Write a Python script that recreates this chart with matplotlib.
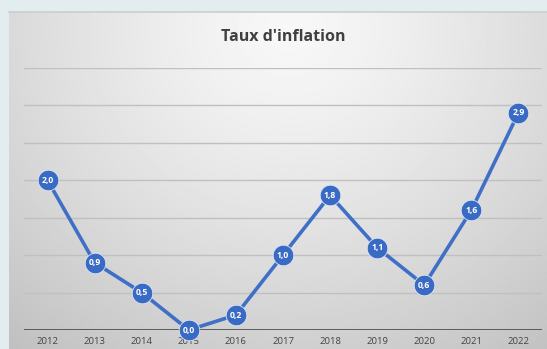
import numpy as np
import matplotlib
matplotlib.use("Agg")
import matplotlib.pyplot as plt

years = ["2012", "2013", "2014", "2015", "2016", "2017", "2018", "2019", "2020", "2021", "2022"]
inflation = [2.0, 0.9, 0.5, 0.0, 0.2, 1.0, 1.8, 1.1, 0.6, 1.6, 2.9]
labels = ["2,0", "0,9", "0,5", "0,0", "0,2", "1,0", "1,8", "1,1", "0,6", "1,6", "2,9"]

W, H = 547, 349
fig = plt.figure(figsize=(W / 100, H / 100), dpi=100)
fig.patch.set_facecolor("#e3ecef")

# gradient panel
bg = fig.add_axes((9 / W, 0, 1 - 9 / W, (H - 12) / H))
yy, xx = np.mgrid[0:1:200j, 0:1:300j]
r = np.sqrt(((xx - 0.52) / 0.75) ** 2 + ((yy - 0.05) / 1.1) ** 2)
shade = 0.97 - 0.19 * np.clip(r, 0, 1.2) ** 1.3
bg.imshow(shade, cmap="gray", vmin=0, vmax=1, aspect="auto", extent=(0, 1, 1, 0))
bg.axis("off")
fig.add_artist(plt.Line2D([9 / W, 1], [(H - 12) / H] * 2, color="#c8cfd2", lw=1.2))

ax = fig.add_axes((24 / W, 19 / H, (542 - 24) / W, (330 - 68) / H))
ax.patch.set_alpha(0)
x = np.arange(len(years))
ax.set_xlim(-0.5, len(years) - 0.5)
ax.set_ylim(0, 3.5)
for g in np.arange(0.5, 3.51, 0.5):
    ax.axhline(g, color="#c0c0c0", lw=1.0, zorder=1)
ax.axhline(0, color="#3a3a3a", lw=1.8, zorder=2)

ax.plot(x, inflation, color="#3f6fc6", lw=2.6, zorder=3, clip_on=False)
ax.scatter(x, inflation, s=220, color="#3a6bc4", edgecolors="#dfe6f3", linewidths=0.6,
           zorder=4, clip_on=False)
for xi, v, lab in zip(x, inflation, labels):
    ax.text(xi, v, lab, ha="center", va="center", color="white", fontsize=6.2,
            fontweight="bold", family="Open Sans", zorder=5)

ax.set_xticks(x)
ax.set_xticklabels(years, fontsize=6.8, color="#444444", family="Open Sans")
ax.tick_params(axis="x", length=0, pad=5)
ax.set_yticks([])
for s in ax.spines.values():
    s.set_visible(False)

fig.text(283 / W, 1 - 37 / H, "Taux d'inflation", ha="center", va="center",
         fontsize=11.5, fontweight="bold", color="#404040", family="Open Sans")

fig.savefig("out.png", dpi=100)
